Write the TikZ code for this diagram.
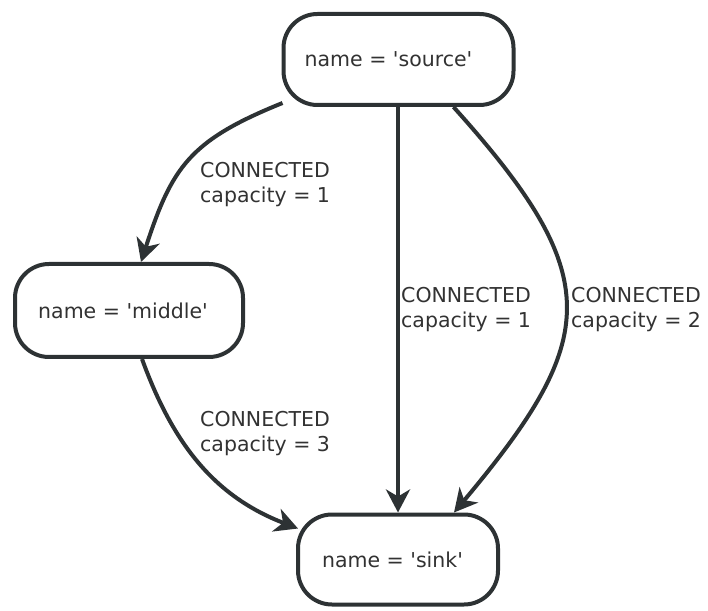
\documentclass[tikz,border=0pt]{standalone}
\usepackage{fontspec}
\newfontfamily\graphfont{DejaVu Sans}
\usetikzlibrary{arrows.meta}
\definecolor{graphline}{RGB}{45,50,52}
\definecolor{graphtext}{RGB}{50,50,50}

\begin{document}
\begin{tikzpicture}[x=1pt,y=1pt,
  state/.style={draw=graphline,line width=4pt,rounded corners=34pt,fill=white,
    text=graphtext,font=\graphfont\fontsize{20.5}{25}\selectfont},
  rel/.style={graphline,line width=4pt,-{Stealth[length=23pt,width=24pt,inset=7pt]}},
  rellabel/.style={anchor=base west,align=left,inner sep=0pt,text=graphtext,
    font=\graphfont\fontsize{20.5}{25}\selectfont}]
\useasboundingbox (0,0) rectangle (708,610);
% states
\node[state,minimum width=230pt,minimum height=91pt] (source) at (398.5,550.5) {name = 'source'\kern20pt};
\node[state,minimum width=228pt,minimum height=93pt] (middle) at (129,299.5) {name = 'middle'\kern12pt};
\node[state,minimum width=200pt,minimum height=90pt] (sink) at (398,50.5) {name = 'sink'\kern11pt};
% relationships
\draw[rel] ([xshift=1pt,yshift=4pt]source.south west) to[out=202,in=72,looseness=1.2] ([xshift=12pt]middle.north);
\draw[rel] ([xshift=-0.5pt]source.south) -- (sink.north);
\draw[rel] ([xshift=55pt]source.south) to[out=-48,in=50,looseness=1.44] ([xshift=56pt]sink.north);
\draw[rel] ([xshift=13pt]middle.south) to[out=290,in=159] ([xshift=2pt,yshift=-16pt]sink.north west);
% labels
\node[rellabel] (cap1) at (200,407) {CONNECTED\\capacity = 1};
\node[rellabel] (cap2) at (401,282) {CONNECTED\\capacity = 1};
\node[rellabel] (cap3) at (571,282) {CONNECTED\\capacity = 2};
\node[rellabel] (cap4) at (200,158) {CONNECTED\\capacity = 3};
\end{tikzpicture}
\end{document}
